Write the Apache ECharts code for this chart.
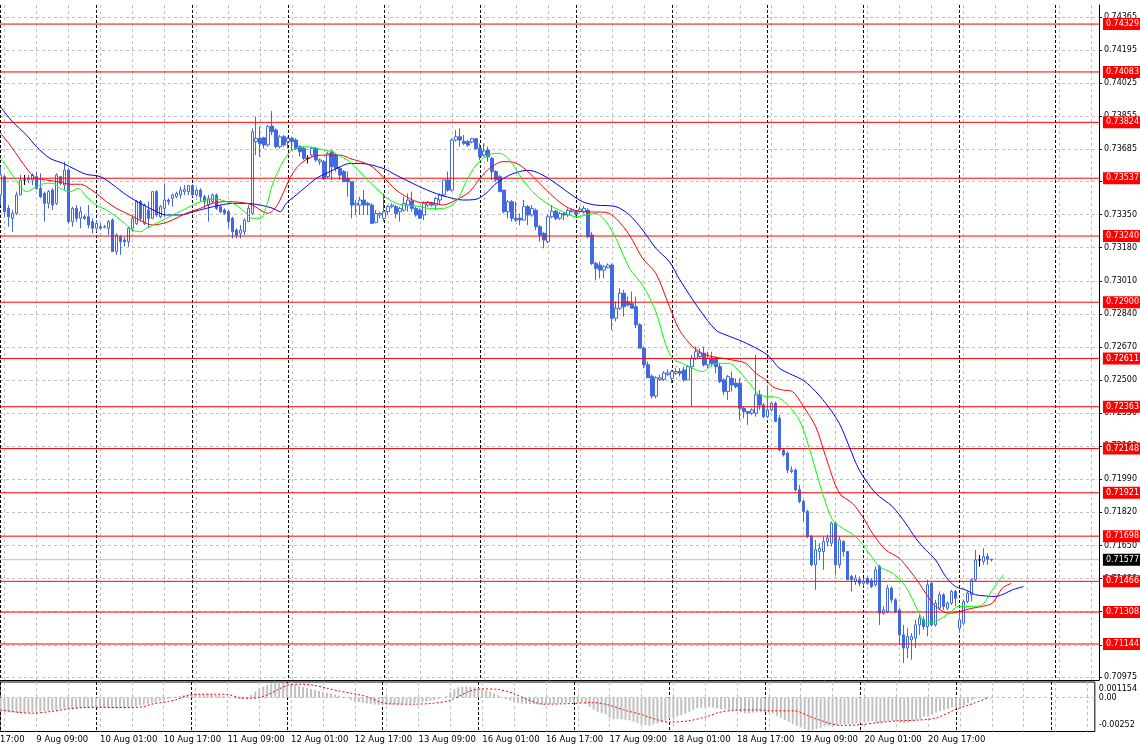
<!DOCTYPE html>
<html><head><meta charset="utf-8">
<script src="https://cdn.jsdelivr.net/npm/echarts@6/dist/echarts.min.js"></script>
<style>html,body{margin:0;padding:0;background:#fff;}#c{width:1140px;height:754px;}</style>
</head><body><div id="c"></div>
<script>
// ---- time categories (H1 bars) ----
const prevDay = '8 Aug';
const dayNames = ['9 Aug','10 Aug','11 Aug','12 Aug','13 Aug','16 Aug','17 Aug','18 Aug','19 Aug','20 Aug','21 Aug','22 Aug'];
// ---- price tick labels (right axis) ----
const priceTicks = [0.74365,0.74195,0.74025,0.73855,0.73685,0.73520,0.73350,0.73180,0.73010,0.72840,0.72670,0.72500,0.72330,0.72160,0.71990,0.71820,0.71650,0.71480,0.71310,0.71140,0.70975];
const macdTicks = [0.001154, 0, -0.00252];
// ---- horizontal levels ----
const levels = [0.74329,0.74083,0.73824,0.73537,0.73240,0.72900,0.72611,0.72363,0.72148,0.71921,0.71698,0.71466,0.71308,0.71144];
const lastPrice = 0.71577;
// ---- candles [open, high, low, close] ----
const ohlc = [
[0.73451,0.73596,0.73399,0.73554],[0.73545,0.73554,0.73339,0.73365],[0.73382,0.73399,0.73288,0.73339],[0.73331,0.73374,0.73262,0.73357],[0.73357,0.73468,0.73348,0.73451],
[0.73451,0.73554,0.73451,0.73528],[0.73528,0.73554,0.73502,0.73528],[0.73528,0.73554,0.73511,0.73536],[0.73528,0.73562,0.73502,0.73554],[0.73545,0.73571,0.73476,0.73485],
[0.73485,0.73562,0.73434,0.73442],[0.73459,0.73468,0.73314,0.73408],[0.73408,0.73476,0.73382,0.73468],[0.73476,0.73485,0.73374,0.73399],[0.73408,0.73562,0.73399,0.73554],
[0.73545,0.73545,0.73502,0.73511],[0.73502,0.73622,0.73476,0.73579],[0.73579,0.73588,0.73305,0.73314],[0.73314,0.73391,0.73288,0.73382],[0.73382,0.73399,0.73314,0.73331],
[0.73331,0.73391,0.73280,0.73365],[0.73339,0.73348,0.73322,0.73331],[0.73339,0.73399,0.73280,0.73297],[0.73314,0.73331,0.73254,0.73280],[0.73280,0.73322,0.73262,0.73305],
[0.73288,0.73305,0.73271,0.73280],[0.73285,0.73297,0.73280,0.73288],[0.73280,0.73322,0.73245,0.73314],[0.73322,0.73331,0.73160,0.73160],[0.73160,0.73254,0.73143,0.73245],
[0.73237,0.73245,0.73143,0.73211],[0.73220,0.73237,0.73185,0.73211],[0.73211,0.73288,0.73185,0.73280],[0.73280,0.73348,0.73262,0.73331],[0.73305,0.73425,0.73297,0.73417],
[0.73417,0.73425,0.73314,0.73331],[0.73305,0.73408,0.73297,0.73399],[0.73374,0.73417,0.73280,0.73331],[0.73331,0.73468,0.73331,0.73468],[0.73468,0.73476,0.73339,0.73348],
[0.73339,0.73399,0.73331,0.73391],[0.73382,0.73511,0.73339,0.73425],[0.73425,0.73434,0.73399,0.73417],[0.73434,0.73459,0.73391,0.73451],[0.73442,0.73468,0.73434,0.73459],
[0.73451,0.73494,0.73434,0.73476],[0.73468,0.73502,0.73451,0.73480],[0.73468,0.73502,0.73451,0.73499],[0.73499,0.73506,0.73442,0.73451],[0.73451,0.73485,0.73442,0.73476],
[0.73476,0.73485,0.73417,0.73442],[0.73442,0.73451,0.73382,0.73417],[0.73399,0.73451,0.73314,0.73434],[0.73417,0.73459,0.73408,0.73451],[0.73451,0.73459,0.73374,0.73382],
[0.73391,0.73399,0.73357,0.73365],[0.73374,0.73382,0.73348,0.73357],[0.73365,0.73374,0.73280,0.73314],[0.73331,0.73339,0.73228,0.73262],[0.73271,0.73280,0.73228,0.73245],
[0.73254,0.73297,0.73228,0.73271],[0.73262,0.73331,0.73245,0.73322],[0.73314,0.73399,0.73314,0.73382],[0.73357,0.73793,0.73348,0.73776],[0.73725,0.73853,0.73656,0.73742],
[0.73742,0.73802,0.73648,0.73716],[0.73745,0.73750,0.73690,0.73708],[0.73708,0.73810,0.73699,0.73802],[0.73805,0.73882,0.73759,0.73776],[0.73785,0.73793,0.73690,0.73699],
[0.73699,0.73759,0.73690,0.73750],[0.73750,0.73759,0.73699,0.73708],[0.73725,0.73750,0.73690,0.73742],[0.73742,0.73750,0.73682,0.73725],[0.73733,0.73742,0.73682,0.73690],
[0.73699,0.73708,0.73648,0.73673],[0.73690,0.73699,0.73631,0.73639],[0.73639,0.73656,0.73613,0.73639],[0.73656,0.73699,0.73648,0.73690],[0.73690,0.73699,0.73622,0.73631],
[0.73622,0.73639,0.73605,0.73631],[0.73622,0.73631,0.73528,0.73536],[0.73545,0.73673,0.73536,0.73665],[0.73673,0.73682,0.73528,0.73596],[0.73656,0.73665,0.73571,0.73588],
[0.73588,0.73596,0.73528,0.73553],[0.73571,0.73579,0.73519,0.73519],[0.73536,0.73571,0.73442,0.73519],[0.73519,0.73519,0.73331,0.73399],[0.73399,0.73425,0.73348,0.73408],
[0.73399,0.73442,0.73348,0.73425],[0.73425,0.73476,0.73348,0.73399],[0.73408,0.73416,0.73348,0.73399],[0.73399,0.73408,0.73305,0.73305],[0.73310,0.73373,0.73305,0.73356],
[0.73348,0.73365,0.73331,0.73356],[0.73331,0.73459,0.73314,0.73365],[0.73365,0.73399,0.73348,0.73391],[0.73391,0.73408,0.73382,0.73399],[0.73391,0.73399,0.73331,0.73356],
[0.73365,0.73391,0.73314,0.73382],[0.73373,0.73442,0.73365,0.73408],[0.73399,0.73459,0.73365,0.73425],[0.73420,0.73468,0.73365,0.73382],[0.73382,0.73391,0.73339,0.73348],
[0.73373,0.73382,0.73331,0.73331],[0.73348,0.73416,0.73322,0.73408],[0.73399,0.73420,0.73391,0.73412],[0.73408,0.73416,0.73391,0.73399],[0.73399,0.73442,0.73373,0.73433],
[0.73425,0.73459,0.73399,0.73451],[0.73451,0.73528,0.73442,0.73528],[0.73528,0.73571,0.73468,0.73476],[0.73476,0.73742,0.73468,0.73733],[0.73733,0.73784,0.73725,0.73750],
[0.73750,0.73793,0.73699,0.73733],[0.73727,0.73759,0.73707,0.73716],[0.73725,0.73733,0.73699,0.73707],[0.73723,0.73745,0.73716,0.73740],[0.73740,0.73742,0.73682,0.73690],
[0.73690,0.73716,0.73630,0.73647],[0.73656,0.73716,0.73647,0.73677],[0.73682,0.73699,0.73622,0.73647],[0.73639,0.73647,0.73528,0.73571],[0.73571,0.73579,0.73519,0.73528],
[0.73545,0.73553,0.73468,0.73468],[0.73476,0.73476,0.73356,0.73365],[0.73365,0.73425,0.73331,0.73416],[0.73416,0.73425,0.73314,0.73331],[0.73331,0.73416,0.73314,0.73322],
[0.73331,0.73356,0.73296,0.73322],[0.73322,0.73425,0.73322,0.73391],[0.73391,0.73399,0.73296,0.73348],[0.73348,0.73399,0.73339,0.73382],[0.73373,0.73382,0.73271,0.73288],
[0.73288,0.73296,0.73211,0.73245],[0.73254,0.73262,0.73177,0.73219],[0.73211,0.73348,0.73202,0.73339],[0.73339,0.73399,0.73331,0.73368],[0.73368,0.73373,0.73322,0.73331],
[0.73331,0.73365,0.73322,0.73356],[0.73356,0.73360,0.73322,0.73348],[0.73348,0.73382,0.73339,0.73373],[0.73365,0.73382,0.73360,0.73373],[0.73365,0.73373,0.73345,0.73352],
[0.73365,0.73391,0.73356,0.73378],[0.73365,0.73395,0.73356,0.73382],[0.73373,0.73382,0.73228,0.73237],[0.73245,0.73262,0.73091,0.73099],[0.73099,0.73108,0.73014,0.73074],
[0.73091,0.73108,0.73023,0.73065],[0.73065,0.73091,0.73023,0.73082],[0.73077,0.73099,0.73074,0.73091],[0.73091,0.73099,0.72758,0.72818],[0.72818,0.72903,0.72801,0.72869],
[0.72869,0.72971,0.72860,0.72946],[0.72946,0.72963,0.72826,0.72877],[0.72903,0.72929,0.72877,0.72886],[0.72894,0.72954,0.72869,0.72869],[0.72877,0.72929,0.72767,0.72784],
[0.72784,0.72792,0.72664,0.72664],[0.72664,0.72673,0.72561,0.72579],[0.72579,0.72596,0.72512,0.72512],[0.72520,0.72529,0.72406,0.72418],[0.72418,0.72520,0.72406,0.72512],
[0.72503,0.72529,0.72495,0.72512],[0.72503,0.72546,0.72495,0.72537],[0.72529,0.72555,0.72520,0.72537],[0.72509,0.72552,0.72484,0.72544],[0.72535,0.72561,0.72526,0.72544],
[0.72544,0.72561,0.72518,0.72535],[0.72552,0.72569,0.72492,0.72501],[0.72501,0.72578,0.72501,0.72569],[0.72569,0.72629,0.72364,0.72612],[0.72612,0.72672,0.72603,0.72646],
[0.72621,0.72663,0.72612,0.72638],[0.72638,0.72672,0.72569,0.72578],[0.72578,0.72646,0.72561,0.72612],[0.72612,0.72646,0.72569,0.72586],[0.72612,0.72621,0.72535,0.72569],
[0.72569,0.72586,0.72484,0.72492],[0.72501,0.72509,0.72424,0.72441],[0.72441,0.72526,0.72398,0.72518],[0.72509,0.72544,0.72441,0.72475],[0.72484,0.72509,0.72458,0.72466],
[0.72484,0.72509,0.72295,0.72355],[0.72355,0.72364,0.72304,0.72338],[0.72338,0.72338,0.72270,0.72330],[0.72330,0.72355,0.72321,0.72347],[0.72330,0.72629,0.72312,0.72424],
[0.72424,0.72449,0.72347,0.72372],[0.72372,0.72381,0.72304,0.72312],[0.72312,0.72475,0.72304,0.72347],[0.72347,0.72389,0.72338,0.72381],[0.72381,0.72389,0.72287,0.72287],
[0.72304,0.72321,0.72133,0.72141],[0.72141,0.72150,0.72107,0.72116],[0.72124,0.72133,0.72021,0.72038],[0.72030,0.72056,0.72021,0.72038],[0.72038,0.72047,0.71927,0.71936],
[0.71936,0.71961,0.71867,0.71876],[0.71876,0.71884,0.71773,0.71825],[0.71825,0.71833,0.71688,0.71696],[0.71696,0.71705,0.71542,0.71551],[0.71551,0.71679,0.71422,0.71628],
[0.71619,0.71662,0.71576,0.71636],[0.71619,0.71696,0.71525,0.71670],[0.71670,0.71705,0.71645,0.71688],[0.71662,0.71773,0.71645,0.71765],[0.71765,0.71773,0.71499,0.71551],
[0.71551,0.71696,0.71533,0.71679],[0.71670,0.71679,0.71593,0.71619],[0.71619,0.71619,0.71474,0.71474],[0.71491,0.71499,0.71414,0.71474],[0.71465,0.71499,0.71448,0.71482],
[0.71474,0.71491,0.71439,0.71456],[0.71456,0.71482,0.71439,0.71465],[0.71482,0.71491,0.71448,0.71456],[0.71470,0.71482,0.71431,0.71439],[0.71448,0.71542,0.71439,0.71525],
[0.71542,0.71551,0.71242,0.71302],[0.71302,0.71337,0.71294,0.71319],[0.71311,0.71448,0.71302,0.71431],[0.71431,0.71439,0.71354,0.71371],[0.71371,0.71379,0.71302,0.71311],
[0.71319,0.71328,0.71140,0.71191],[0.71191,0.71242,0.71046,0.71123],[0.71123,0.71225,0.71071,0.71183],[0.71165,0.71200,0.71063,0.71183],[0.71174,0.71268,0.71123,0.71242],
[0.71242,0.71294,0.71191,0.71277],[0.71268,0.71285,0.71217,0.71234],[0.71234,0.71474,0.71183,0.71448],[0.71456,0.71465,0.71234,0.71242],[0.71242,0.71371,0.71234,0.71354],
[0.71328,0.71414,0.71319,0.71397],[0.71397,0.71405,0.71319,0.71337],[0.71328,0.71362,0.71319,0.71354],[0.71354,0.71422,0.71345,0.71414],[0.71414,0.71422,0.71337,0.71379],
[0.71225,0.71311,0.71200,0.71268],[0.71251,0.71371,0.71242,0.71362],[0.71362,0.71414,0.71354,0.71405],[0.71397,0.71482,0.71362,0.71474],[0.71474,0.71628,0.71465,0.71576],
[0.71576,0.71602,0.71542,0.71576],[0.71568,0.71636,0.71551,0.71593],[0.71593,0.71610,0.71551,0.71580],[0.71580,0.71580,0.71568,0.71577]
];
// ---- Alligator lines, read as [bar, value] ----
const jaw = [[0,0.73904],[3,0.73827],[6.5,0.73759],[9,0.73699],[12.4,0.73639],[15.7,0.73613],[19,0.73579],[21.5,0.73557],[25,0.73545],[28.2,0.73502],[31.5,0.73451],[35,0.73408],[38.2,0.73374],[41.5,0.73348],[45,0.73348],[48.2,0.73365],[51.5,0.73382],[55,0.73399],[58.2,0.73408],[61.5,0.73408],[65,0.73399],[68.2,0.73382],[70,0.73365],[71.5,0.73408],[74,0.73451],[76.5,0.73494],[79,0.73536],[81.5,0.73562],[85,0.73596],[87.4,0.73613],[90,0.73613],[95.7,0.73588],[99,0.73553],[104,0.73502],[107.4,0.73471],[110.7,0.73447],[115.7,0.73425],[119,0.73429],[121.5,0.73459],[124,0.73510],[127.4,0.73553],[130.7,0.73575],[132.4,0.73577],[135.7,0.73553],[139,0.73510],[142.4,0.73459],[145.7,0.73416],[149,0.73399],[154,0.73391],[157.4,0.73348],[160.7,0.73271],[164,0.73177],[167.4,0.73108],[170,0.73015],[175,0.72860],[179,0.72757],[181.5,0.72732],[185.7,0.72698],[189.9,0.72655],[192.4,0.72621],[194.9,0.72561],[198.2,0.72526],[200.7,0.72501],[203.2,0.72458],[206.5,0.72381],[209.9,0.72278],[212.4,0.72158],[214.9,0.72038],[219,0.71919],[223.2,0.71850],[226.5,0.71765],[229,0.71688],[231.5,0.71628],[234,0.71576],[236.5,0.71491],[239,0.71439],[241.5,0.71422],[244,0.71397],[246.5,0.71391],[249,0.71388],[251.5,0.71405],[253.2,0.71422],[256,0.71439]];
const teeth = [[0,0.73768],[2.4,0.73708],[5,0.73631],[7.5,0.73562],[9,0.73536],[11.5,0.73528],[15,0.73516],[17.4,0.73506],[20,0.73506],[21.5,0.73494],[24,0.73459],[26.5,0.73417],[29,0.73382],[31.5,0.73357],[34,0.73331],[36.5,0.73305],[38,0.73297],[40.7,0.73305],[43,0.73322],[46.5,0.73357],[50,0.73382],[53,0.73408],[56.5,0.73417],[60,0.73413],[63,0.73399],[65.7,0.73365],[67,0.73357],[69,0.73391],[70.7,0.73459],[72.4,0.73536],[74,0.73588],[75.7,0.73622],[78,0.73648],[81,0.73656],[85,0.73656],[87.4,0.73639],[92.4,0.73604],[95.7,0.73545],[99,0.73476],[102.4,0.73433],[105,0.73413],[107.4,0.73413],[110.7,0.73399],[114,0.73425],[117.4,0.73468],[120,0.73536],[122.4,0.73588],[125.7,0.73622],[127.4,0.73622],[130,0.73604],[133.3,0.73545],[136.6,0.73476],[140,0.73413],[142.4,0.73382],[145.7,0.73365],[151.5,0.73362],[154,0.73331],[157.4,0.73245],[160.7,0.73125],[164,0.73048],[167.4,0.72877],[169.9,0.72757],[173.2,0.72672],[176.5,0.72629],[180.7,0.72612],[183.2,0.72603],[186.5,0.72586],[189,0.72535],[191.5,0.72501],[193.2,0.72466],[195.7,0.72449],[198.2,0.72441],[200.7,0.72372],[204,0.72261],[206.5,0.72107],[209.9,0.71919],[213.2,0.71867],[215.7,0.71799],[218.2,0.71713],[221.5,0.71628],[224.9,0.71585],[227.4,0.71525],[229.9,0.71456],[231.5,0.71405],[234,0.71337],[237.4,0.71302],[239.9,0.71311],[243.2,0.71328],[245.7,0.71337],[248.2,0.71354],[250.7,0.71431],[253,0.71456]];
const lips = [[0,0.73639],[2.4,0.73571],[5,0.73494],[6.5,0.73468],[9,0.73494],[11.5,0.73511],[13,0.73511],[15,0.73485],[17.4,0.73468],[19.5,0.73485],[21.5,0.73442],[24,0.73399],[26.5,0.73374],[29,0.73339],[31.5,0.73297],[33,0.73271],[35,0.73262],[36.5,0.73280],[39,0.73305],[41.5,0.73331],[44,0.73357],[46.5,0.73382],[49,0.73408],[51.5,0.73425],[54,0.73430],[56.5,0.73417],[59,0.73399],[61.5,0.73357],[63,0.73331],[65,0.73331],[66.5,0.73391],[68,0.73502],[70,0.73596],[71.5,0.73648],[73,0.73682],[76,0.73699],[78,0.73696],[81,0.73682],[83,0.73673],[85,0.73650],[87.4,0.73622],[90.7,0.73553],[94,0.73485],[97.4,0.73425],[100.7,0.73399],[104,0.73395],[107.4,0.73382],[110.7,0.73382],[114,0.73416],[116.5,0.73519],[119,0.73604],[122.4,0.73659],[124.9,0.73665],[127.4,0.73630],[130.7,0.73528],[134,0.73451],[137.4,0.73399],[140.7,0.73365],[144,0.73339],[147.4,0.73352],[149,0.73356],[151.5,0.73314],[154,0.73228],[157.4,0.73074],[160.7,0.72988],[164,0.72851],[166.5,0.72680],[168.2,0.72612],[171.5,0.72578],[175.7,0.72544],[179,0.72586],[182.4,0.72586],[184.9,0.72544],[187.4,0.72484],[189.9,0.72424],[192.4,0.72415],[194.9,0.72407],[197.4,0.72364],[199.9,0.72295],[201.5,0.72210],[204,0.72038],[205.7,0.71919],[208.2,0.71782],[210.7,0.71739],[214,0.71696],[217.4,0.71610],[219.9,0.71542],[223.2,0.71508],[226.5,0.71439],[229.9,0.71302],[231.5,0.71251],[234,0.71259],[237.4,0.71302],[239.9,0.71337],[243.2,0.71337],[245.7,0.71345],[248.2,0.71422],[251,0.71499]];
// ---- MACD main (histogram, one per bar) ----
const macdMain = [
-0.00100,-0.00105,-0.00110,-0.00112,-0.00113,-0.00115,-0.00114,-0.00112,-0.00110,-0.00106,
-0.00103,-0.00100,-0.00098,-0.00095,-0.00090,-0.00086,-0.00082,-0.00085,-0.00082,-0.00080,
-0.00078,-0.00076,-0.00075,-0.00074,-0.00073,-0.00074,-0.00076,-0.00078,-0.00078,-0.00080,
-0.00080,-0.00078,-0.00074,-0.00070,-0.00064,-0.00058,-0.00052,-0.00046,-0.00040,-0.00034,
-0.00025,-0.00018,-0.00010,-0.00002,0.00006,0.00012,0.00018,0.00022,0.00026,0.00028,
0.00028,0.00027,0.00026,0.00024,0.00022,0.00018,0.00012,0.00006,0.00000,-0.00006,
-0.00010,-0.00012,-0.00008,0.00020,0.00045,0.00065,0.00080,0.00095,0.00105,0.00110,
0.00112,0.00110,0.00106,0.00100,0.00094,0.00086,0.00078,0.00070,0.00062,0.00055,
0.00048,0.00040,0.00034,0.00028,0.00022,0.00015,0.00006,-0.00004,-0.00016,-0.00026,
-0.00034,-0.00040,-0.00044,-0.00048,-0.00052,-0.00054,-0.00055,-0.00054,-0.00052,-0.00050,
-0.00048,-0.00046,-0.00044,-0.00042,-0.00040,-0.00038,-0.00034,-0.00030,-0.00024,-0.00018,
-0.00010,0.00000,0.00010,0.00040,0.00062,0.00075,0.00080,0.00082,0.00080,0.00076,
0.00070,0.00062,0.00054,0.00044,0.00032,0.00018,0.00004,-0.00010,-0.00022,-0.00032,
-0.00040,-0.00044,-0.00046,-0.00048,-0.00050,-0.00052,-0.00054,-0.00050,-0.00046,-0.00044,
-0.00042,-0.00040,-0.00040,-0.00038,-0.00038,-0.00038,-0.00038,-0.00048,-0.00070,-0.00090,
-0.00105,-0.00115,-0.00125,-0.00150,-0.00160,-0.00160,-0.00162,-0.00165,-0.00170,-0.00180,
-0.00190,-0.00200,-0.00205,-0.00210,-0.00200,-0.00190,-0.00180,-0.00170,-0.00160,-0.00150,
-0.00140,-0.00130,-0.00120,-0.00105,-0.00090,-0.00080,-0.00075,-0.00072,-0.00072,-0.00075,
-0.00080,-0.00085,-0.00088,-0.00090,-0.00092,-0.00100,-0.00110,-0.00115,-0.00118,-0.00112,
-0.00110,-0.00110,-0.00108,-0.00110,-0.00120,-0.00135,-0.00150,-0.00165,-0.00180,-0.00195,
-0.00210,-0.00222,-0.00232,-0.00245,-0.00240,-0.00232,-0.00225,-0.00215,-0.00210,-0.00212,
-0.00205,-0.00200,-0.00200,-0.00198,-0.00195,-0.00192,-0.00190,-0.00185,-0.00180,-0.00175,
-0.00185,-0.00185,-0.00178,-0.00175,-0.00172,-0.00180,-0.00190,-0.00190,-0.00185,-0.00175,
-0.00165,-0.00160,-0.00140,-0.00140,-0.00125,-0.00112,-0.00100,-0.00092,-0.00082,-0.00072,
-0.00078,-0.00068,-0.00058,-0.00040,-0.00020,-0.00008,0.00000,0.00005,0.00008
];
// ---- MACD signal (red dotted), read as [bar, value] ----
const macdSignal = [[0,-0.00091],[5,-0.00111],[8,-0.00116],[12.5,-0.00104],[17,-0.00084],[21,-0.00074],[25,-0.00072],[29,-0.00074],[33,-0.00074],[36,-0.00067],[38,-0.00049],[42,-0.00030],[44,-0.00017],[47,0.00015],[50,0.00025],[54,0.00025],[57.5,0.00020],[60,0.00000],[62.5,-0.00005],[65,0.00000],[67.5,0.00025],[70,0.00064],[72.5,0.00094],[75,0.00099],[78,0.00094],[82,0.00069],[85,0.00049],[88,0.00032],[92,0.00007],[95,-0.00030],[98,-0.00047],[104,-0.00049],[108,-0.00044],[112.5,-0.00025],[115,0.00007],[118,0.00049],[121,0.00064],[125,0.00060],[128.7,0.00032],[132.5,-0.00017],[136.4,-0.00049],[144,-0.00044],[148.8,-0.00037],[152.6,-0.00054],[156.5,-0.00091],[161.2,-0.00128],[165,-0.00165],[167.9,-0.00182],[172.7,-0.00173],[177.5,-0.00141],[180.4,-0.00111],[184.2,-0.00094],[189.9,-0.00091],[193.7,-0.00099],[199.5,-0.00099],[203.3,-0.00141],[208.1,-0.00190],[211,-0.00207],[215.8,-0.00202],[220.6,-0.00185],[225.3,-0.00173],[230.1,-0.00168],[234.9,-0.00153],[239.7,-0.00091],[244.5,-0.00042],[247.8,-0.00005]];

// ---------- layout helpers ----------
const FONT = 'DejaVu Sans';
const BARS_VISIBLE = 275;          // bar slots across the plot
const gridBars = []; for (let k = 1; k < BARS_VISIBLE; k += 8) gridBars.push(k);
const dayBars = [];  for (let k = 0; k < BARS_VISIBLE; k += 24) dayBars.push(k);
const labelBars = []; for (let k = 9; k < ohlc.length; k += 16) labelBars.push(k);
function barTime(i) {
  const d = Math.floor(i / 24), h = ((i % 24) + 24) % 24;
  return (d < 0 ? prevDay : dayNames[d]) + ' ' + String(h).padStart(2, '0') + ':00';
}
const xMin = -0.125, xMax = BARS_VISIBLE - 0.125;
const gray = '#c0c0c0';

const candleData = ohlc.map((r, i) => {
  const item = { value: [i, r[0], r[3], r[2], r[1]] };
  if (r[0] === r[3]) item.itemStyle = { color: '#000', color0: '#000', borderColor: '#000', borderColor0: '#000' };
  return item;
});

const axisText = { fontFamily: FONT, fontSize: 8, color: '#000' };

// horizontal price levels as two-point line series with a boxed end label
function levelSeries(v, lineColor, boxColor, z) {
  return {
    type: 'line', xAxisIndex: 0, yAxisIndex: 0, silent: true, z: z,
    data: [[xMin, v], [xMax, v]], showSymbol: false, symbol: 'none',
    lineStyle: { color: lineColor, width: 1, type: 'solid' },
    endLabel: { show: true, distance: 4, formatter: () => v.toFixed(5),
      color: '#fff', backgroundColor: boxColor, padding: [2, 4, 1, 3],
      fontFamily: FONT, fontSize: 8, lineHeight: 9 }
  };
}

const series = [
  { type: 'candlestick', xAxisIndex: 0, yAxisIndex: 0, data: candleData, barWidth: 3, z: 3,
    itemStyle: { color: '#ffffff', color0: '#4169E1', borderColor: '#4169E1', borderColor0: '#4169E1', borderWidth: 1 } },
  levelSeries(lastPrice, gray, '#000', 2)
].concat(levels.map(v => levelSeries(v, '#ff0000', '#ff0000', 4))).concat([
  { type: 'line', xAxisIndex: 0, yAxisIndex: 0, data: jaw, showSymbol: false, smooth: 0.3, z: 5,
    lineStyle: { color: '#0000ff', width: 1 } },
  { type: 'line', xAxisIndex: 0, yAxisIndex: 0, data: teeth, showSymbol: false, smooth: 0.3, z: 5,
    lineStyle: { color: '#ff0000', width: 1 } },
  { type: 'line', xAxisIndex: 0, yAxisIndex: 0, data: lips, showSymbol: false, smooth: 0.3, z: 5,
    lineStyle: { color: '#00ff00', width: 1 } },
  { type: 'bar', xAxisIndex: 2, yAxisIndex: 1, data: macdMain.map((v, i) => [i, v]), barWidth: 2,
    itemStyle: { color: gray }, z: 3 },
  { type: 'line', xAxisIndex: 2, yAxisIndex: 1, data: macdSignal, showSymbol: false, smooth: 0.3, z: 4,
    lineStyle: { color: '#ff0000', width: 1, type: [2, 2] } }
]);

const chart = echarts.init(document.getElementById('c'), null, { renderer: 'canvas' });
const option = {
  animation: false,
  backgroundColor: '#fff',
  grid: [
    { left: 0, top: 5, width: 1100, height: 675 },
    { left: 0, top: 682, width: 1100, height: 49.5, show: true, borderColor: '#000', borderWidth: 1, backgroundColor: 'transparent' }
  ],
  xAxis: [
    { gridIndex: 0, type: 'value', min: xMin, max: xMax, position: 'bottom',
      axisLine: { show: true, onZero: false, lineStyle: { color: '#000', width: 1 } },
      axisTick: { show: false, customValues: gridBars }, axisLabel: { show: false },
      splitLine: { show: true, lineStyle: { color: gray, type: [3, 3], width: 1 } } },
    { gridIndex: 0, type: 'value', min: xMin, max: xMax, position: 'top',
      axisLine: { show: false, onZero: false }, axisTick: { show: false, customValues: dayBars }, axisLabel: { show: false },
      splitLine: { show: true, lineStyle: { color: '#000', type: [3, 2], width: 1 } } },
    { gridIndex: 1, type: 'value', min: xMin, max: xMax, position: 'bottom',
      axisLine: { show: false, onZero: false },
      axisTick: { show: false, customValues: gridBars },
      axisLabel: { show: true, customValues: labelBars, formatter: v => barTime(Math.round(v)), align: 'left', margin: 4, ...axisText, fontSize: 8.5 },
      splitLine: { show: true, lineStyle: { color: gray, type: [3, 3], width: 1 } } },
    { gridIndex: 1, type: 'value', min: xMin, max: xMax, position: 'top',
      axisLine: { show: false, onZero: false }, axisTick: { show: false, customValues: dayBars }, axisLabel: { show: false },
      splitLine: { show: true, lineStyle: { color: '#000', type: [3, 2], width: 1 } } }
  ],
  yAxis: [
    { gridIndex: 0, type: 'value', position: 'right', min: 0.70959, max: 0.74427,
      axisLine: { show: true, onZero: false, lineStyle: { color: '#000', width: 1 } },
      axisTick: { show: true, customValues: priceTicks, length: 3, lineStyle: { color: '#000' } },
      axisLabel: { show: true, customValues: priceTicks, formatter: v => v.toFixed(5), margin: 5, ...axisText },
      splitLine: { show: true, lineStyle: { color: gray, type: [3, 3], width: 1 } } },
    { gridIndex: 1, type: 'value', position: 'right', min: -0.00252, max: 0.001154,
      axisLine: { show: false, onZero: false },
      axisTick: { show: false, customValues: [0] },
      axisLabel: { show: true, customValues: macdTicks, margin: 4, ...axisText,
        formatter: v => v > 0 ? '{t|' + v + '}' : (v < 0 ? '{b|' + v + '}' : '0.00'),
        rich: { t: { ...axisText, padding: [14, 0, 0, 0] }, b: { ...axisText, padding: [0, 0, 13, 0] } } },
      splitLine: { show: true, lineStyle: { color: gray, type: [3, 3], width: 1 } } }
  ],
  series: series
};
chart.setOption(option);

// partially visible first time label (bar before the window start)
const firstLbl = -7;
const px = chart.convertToPixel({ xAxisIndex: 2 }, firstLbl);
const py = chart.convertToPixel({ yAxisIndex: 1 }, -0.00252);
chart.setOption({ graphic: [{ type: 'text', left: px, top: py + 4, silent: true,
  style: { text: barTime(firstLbl), fill: '#000', font: '8.5px "DejaVu Sans"' } }] });
</script></body></html>
